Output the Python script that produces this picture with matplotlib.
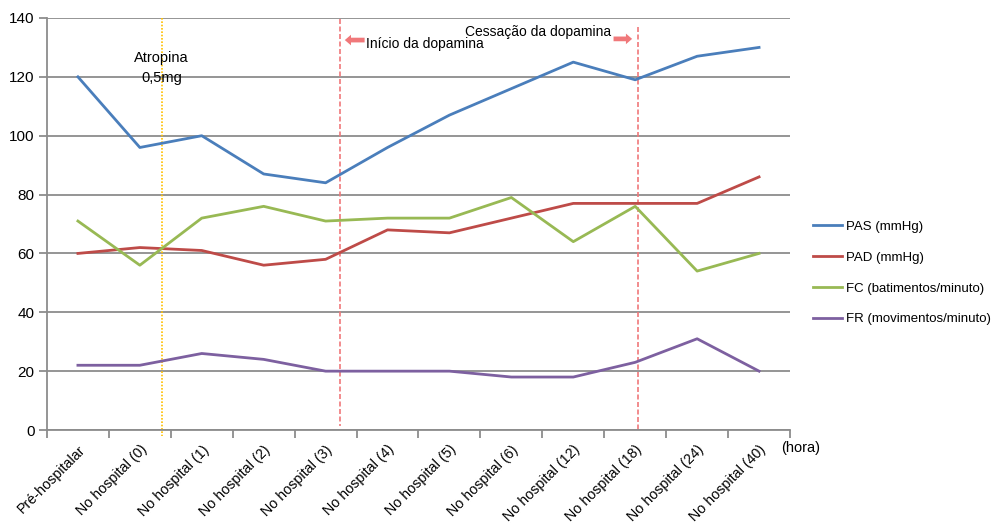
import numpy as np
import matplotlib.pyplot as plt
from matplotlib.patches import FancyArrow

plt.rcParams['font.family'] = ['Liberation Sans', 'DejaVu Sans']

# categories and series
labels = ['Pré-hospitalar', 'No hospital (0)', 'No hospital (1)', 'No hospital (2)',
          'No hospital (3)', 'No hospital (4)', 'No hospital (5)', 'No hospital (6)',
          'No hospital (12)', 'No hospital (18)', 'No hospital (24)', 'No hospital (40)']
pas = [120, 96, 100, 87, 84, 96, 107, 116, 125, 119, 127, 130]
pad = [60, 62, 61, 56, 58, 68, 67, 72, 77, 77, 77, 86]
fc = [71, 56, 72, 76, 71, 72, 72, 79, 64, 76, 54, 60]
fr = [22, 22, 26, 24, 20, 20, 20, 18, 18, 23, 31, 20]

# event markers (category position)
atropina_x = 1.35
inicio_x = 4.23
cessacao_x = 9.05

x = np.arange(len(labels))

fig = plt.figure(figsize=(9.97, 5.23), dpi=100)
ax = fig.add_axes([0.0471, 0.1778, 0.7453, 0.7878])

ax.set_ylim(0, 140)
ax.set_xlim(-0.5, len(labels) - 0.5)
ax.set_yticks(range(0, 141, 20))
ax.yaxis.grid(True, color='#8c8c8c', lw=1.3)
ax.set_axisbelow(True)

ax.plot(x, pas, color='#4A7EBB', lw=2, label='PAS (mmHg)', zorder=3)
ax.plot(x, pad, color='#BE4B48', lw=2, label='PAD (mmHg)', zorder=3)
ax.plot(x, fc, color='#98B954', lw=2, label='FC (batimentos/minuto)', zorder=3)
ax.plot(x, fr, color='#7D60A0', lw=2, label='FR (movimentos/minuto)', zorder=3)

# vertical event lines
ax.plot([atropina_x, atropina_x], [140, -2], color='#FFC000', lw=1.2, ls=(0, (1, 1)), clip_on=False)
ax.plot([inicio_x, inicio_x], [139.5, 1.5], color='#F0787A', lw=1.2, ls=(0, (3, 1.5)), clip_on=False)
ax.plot([cessacao_x, cessacao_x], [137, 0], color='#F0787A', lw=1.2, ls=(0, (3, 1.5)), clip_on=False)

# annotations
ax.text(1.35, 126.4, 'Atropina', ha='center', va='center', fontsize=10.5)
ax.text(1.35, 119.6, '0,5mg', ha='center', va='center', fontsize=10.5)
ax.text(4.66, 131.2, 'Início da dopamina', ha='left', va='center', fontsize=10)
ax.text(8.61, 135.2, 'Cessação da dopamina', ha='right', va='center', fontsize=10)
ax.add_patch(FancyArrow(4.63, 132.5, -0.32, 0, width=1.6, head_width=3.6, head_length=0.1,
                        length_includes_head=True, color='#F0787A', lw=0))
ax.add_patch(FancyArrow(8.65, 132.9, 0.3, 0, width=1.6, head_width=3.6, head_length=0.1,
                        length_includes_head=True, color='#F0787A', lw=0))

# axes styling
for s in ['top', 'right']:
    ax.spines[s].set_visible(False)
ax.spines['left'].set_color('#8c8c8c')
ax.spines['bottom'].set_color('#8c8c8c')
ax.spines['left'].set_linewidth(1.3)
ax.spines['bottom'].set_linewidth(1.3)

ax.set_xticks(np.arange(-0.5, len(labels), 1))
ax.set_xticklabels([])
ax.tick_params(axis='x', which='major', length=6, width=1.3, color='#8c8c8c', direction='out')
ax.set_xticks(x, minor=True)
ax.set_xticklabels(labels, minor=True, rotation=45, ha='right', rotation_mode='anchor', fontsize=10.3)
ax.tick_params(axis='x', which='minor', length=0, pad=9)
ax.tick_params(axis='y', length=6, width=1.3, color='#8c8c8c', labelsize=11, pad=3)

ax.text(11.35, -6.1, '(hora)', ha='left', va='center', fontsize=10.5, clip_on=False)

ax.legend(loc='center left', bbox_to_anchor=(1.015, 0.381), frameon=False, fontsize=9.5,
          handlelength=2.2, handletextpad=0.3, labelspacing=1.4)

fig.savefig('out.png', dpi=100)
